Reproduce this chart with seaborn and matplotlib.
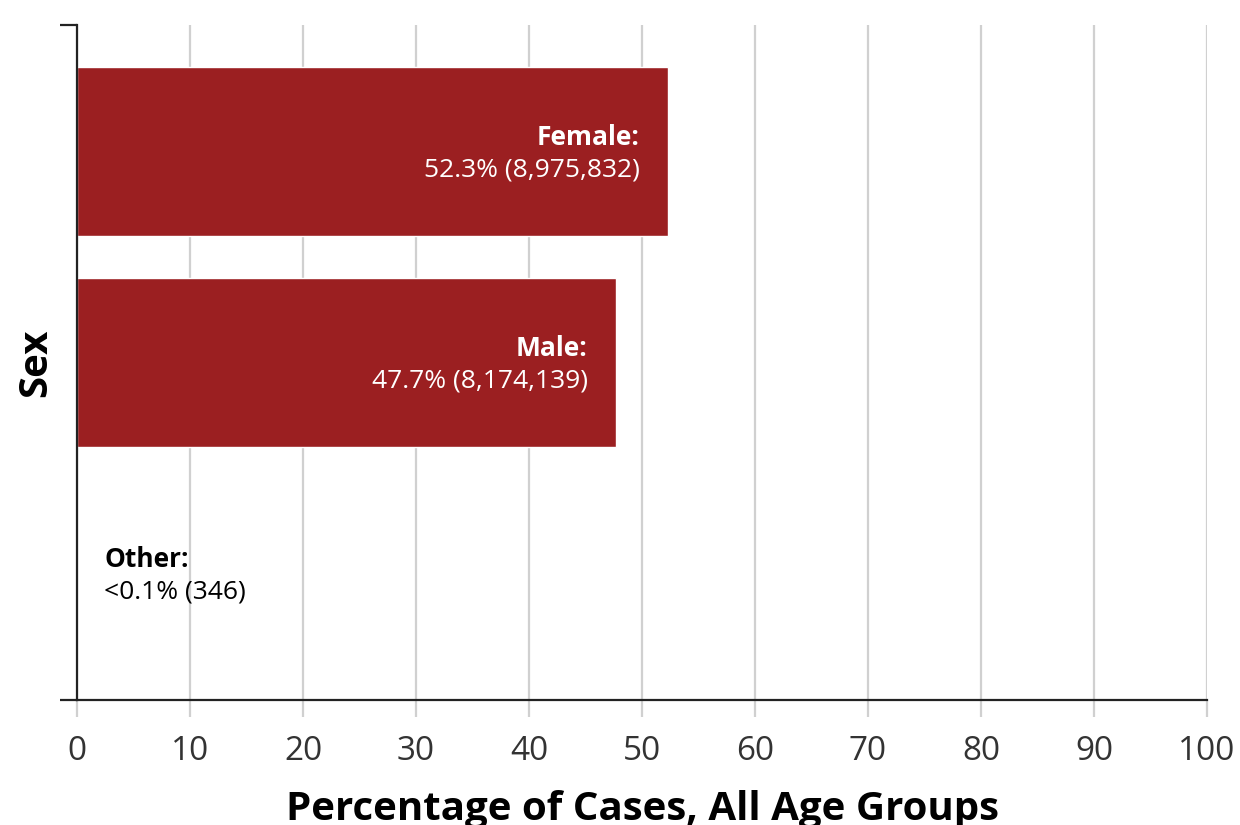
import pandas as pd
import matplotlib.pyplot as plt
import seaborn as sns

# Data
categories = ["Female", "Male", "Other"]
percents = [52.3, 47.7, 0.002]
pct_labels = ["52.3%", "47.7%", "<0.1%"]
counts = ["8,975,832", "8,174,139", "346"]

df = pd.DataFrame({"Sex": categories, "Percent": percents})

sns.set_theme(style="white")
plt.rcParams["font.family"] = ["Open Sans", "DejaVu Sans"]

bar_color = "#9b1f21"

fig = plt.figure(figsize=(12.4, 8.25), dpi=100)
ax = fig.add_axes([0.0621, 0.1515, 0.9113, 0.8182])

sns.barplot(x="Percent", y="Sex", data=df, orient="h", color=bar_color,
            width=0.8, saturation=1, ax=ax, zorder=3)

ax.set_xlim(0, 100)
ax.set_ylim(2.6, -0.6)
ax.set_xticks(range(0, 101, 10))
ax.set_yticks([-0.6, 2.6])
ax.set_yticklabels(["", ""])

ax.grid(axis="x", color="#d0d0d0", linewidth=1.6, zorder=0)
ax.grid(axis="y", visible=False)

for side in ["top", "right"]:
    ax.spines[side].set_visible(False)
for side in ["left", "bottom"]:
    ax.spines[side].set_color("#222222")
    ax.spines[side].set_linewidth(1.6)
    ax.spines[side].set_zorder(4)

ax.tick_params(axis="x", bottom=True, length=12, width=1.6, color="#d0d0d0",
               labelsize=24, labelcolor="#333333", pad=13)
ax.tick_params(axis="y", left=True, length=12, width=1.6, color="#222222")

ax.set_xlabel("Percentage of Cases, All Age Groups", fontsize=29,
              fontweight="bold", color="black", labelpad=16)
ax.set_ylabel("Sex", fontsize=29, fontweight="bold", color="black",
              labelpad=0)

# Bar annotations
for i, (cat, val) in enumerate(zip(categories, percents)):
    if val > 10:
        x, ha, col = val - 2.5, "right", "white"
    else:
        x, ha, col = 2.4, "left", "black"
    ax.text(x, i - 0.065, cat + ":", ha=ha, va="center", fontsize=19,
            fontweight="bold", color=col, zorder=5)
    ax.text(x, i + 0.088, f"{pct_labels[i]} ({counts[i]})", ha=ha,
            va="center", fontsize=19, color=col, zorder=5)

plt.savefig("out.png", dpi=100)
